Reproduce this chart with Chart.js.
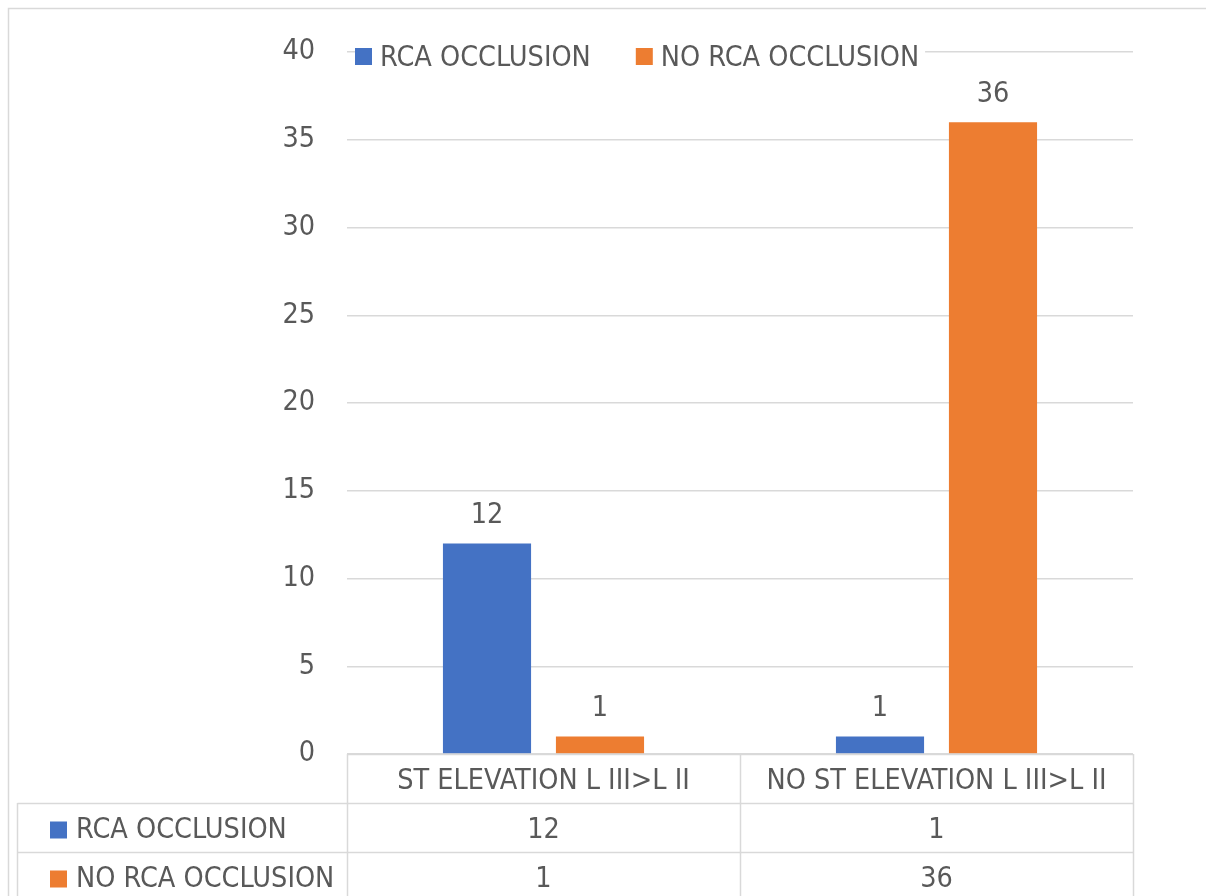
<!DOCTYPE html>
<html>
<head>
<meta charset="utf-8">
<script src="https://cdn.jsdelivr.net/npm/chart.js@4/dist/chart.umd.min.js"></script>
<style>
  html, body { margin: 0; padding: 0; background: #ffffff; }
  #wrap { position: relative; width: 1206px; height: 896px; }
</style>
</head>
<body>
<div id="wrap"><canvas id="c" width="1206" height="896"></canvas></div>
<script>
// Chart data
const categories = ['ST ELEVATION L III>L II', 'NO ST ELEVATION L III>L II'];
const seriesNames = ['RCA OCCLUSION', 'NO RCA OCCLUSION'];
const rcaOcclusion = [12, 1];
const noRcaOcclusion = [1, 36];
const yTicks = [0, 5, 10, 15, 20, 25, 30, 35, 40];

const FONT = "'Liberation Sans Narrow', 'DejaVu Sans Condensed', 'Noto Sans', sans-serif";
const FONT_SIZE = 28.5;
const TEXT = '#595959';
const LINE = '#D9D9D9';
const COLORS = ['#4472C4', '#ED7D31'];

// Draws the frame, legend, value labels and the data table under the plot
const decorations = {
  id: 'decorations',
  afterDraw(chart) {
    const ctx = chart.ctx;
    const area = chart.chartArea;
    const x = chart.scales.x;
    const W = chart.width, H = chart.height;
    ctx.save();
    ctx.font = FONT_SIZE + 'px ' + FONT;
    ctx.fillStyle = TEXT;

    // outer chart frame
    ctx.strokeStyle = LINE;
    ctx.lineWidth = 1.5;
    ctx.beginPath();
    ctx.moveTo(8.5, H);
    ctx.lineTo(8.5, 8.5);
    ctx.lineTo(W, 8.5);
    ctx.stroke();

    // value labels above bars
    ctx.textAlign = 'center';
    ctx.textBaseline = 'middle';
    chart.data.datasets.forEach((ds, di) => {
      chart.getDatasetMeta(di).data.forEach((bar, i) => {
        ctx.fillText(String(ds.data[i]), bar.x, bar.y - 28);
      });
    });

    // legend inside the plot top
    const legY = area.top + 5;
    let lx = area.left + 8;
    const legendGap = 45;
    ctx.textAlign = 'left';
    const legendStart = lx;
    const widths = seriesNames.map(n => ctx.measureText(n).width);
    const legendEnd = lx + 25 * 2 + widths[0] + widths[1] + legendGap + 6;
    ctx.fillStyle = '#ffffff';
    ctx.fillRect(legendStart, area.top - 2, legendEnd - legendStart, 4);
    seriesNames.forEach((name, i) => {
      ctx.fillStyle = COLORS[i];
      ctx.fillRect(lx, legY - 9, 17, 17);
      ctx.fillStyle = TEXT;
      ctx.fillText(name, lx + 25, legY + 2);
      lx += 25 + widths[i] + legendGap;
    });

    // data table
    const rowH = 49;
    const headTop = area.bottom;
    const row1 = headTop + rowH;
    const row2 = row1 + rowH;
    const tableLeft = 17.5;
    const colEdges = [area.left, (x.getPixelForValue(0) + x.getPixelForValue(1)) / 2, area.right];
    ctx.strokeStyle = LINE;
    ctx.lineWidth = 1.5;
    ctx.beginPath();
    // horizontal rules
    ctx.moveTo(area.left, headTop + 0.5); ctx.lineTo(area.right, headTop + 0.5);
    ctx.moveTo(tableLeft, row1 + 0.5); ctx.lineTo(area.right, row1 + 0.5);
    ctx.moveTo(tableLeft, row2 + 0.5); ctx.lineTo(area.right, row2 + 0.5);
    // vertical rules
    colEdges.forEach(cx => {
      ctx.moveTo(Math.round(cx) + 0.5, headTop);
      ctx.lineTo(Math.round(cx) + 0.5, H);
    });
    ctx.moveTo(tableLeft, row1);
    ctx.lineTo(tableLeft, H);
    ctx.stroke();

    // header row: category names
    ctx.fillStyle = TEXT;
    ctx.textAlign = 'center';
    categories.forEach((cat, i) => {
      ctx.fillText(cat, x.getPixelForValue(i), headTop + rowH / 2 + 3);
    });

    // series rows
    const rows = [rcaOcclusion, noRcaOcclusion];
    rows.forEach((vals, r) => {
      const cy = row1 + rowH * r + rowH / 2 + 2;
      ctx.fillStyle = COLORS[r];
      ctx.fillRect(50, cy - 8, 17, 17);
      ctx.fillStyle = TEXT;
      ctx.textAlign = 'left';
      ctx.fillText(seriesNames[r], 76, cy + 1);
      ctx.textAlign = 'center';
      vals.forEach((v, i) => ctx.fillText(String(v), x.getPixelForValue(i), cy + 1));
    });
    ctx.restore();
  }
};

new Chart(document.getElementById('c'), {
  type: 'bar',
  data: {
    labels: categories,
    datasets: [
      { label: seriesNames[0], data: rcaOcclusion, backgroundColor: COLORS[0] },
      { label: seriesNames[1], data: noRcaOcclusion, backgroundColor: COLORS[1] }
    ]
  },
  options: {
    responsive: false,
    animation: false,
    events: [],
    layout: { padding: { left: 0, top: 52, right: 73, bottom: 142 } },
    datasets: { bar: { categoryPercentage: 0.575, barPercentage: 0.78 } },
    scales: {
      x: { display: false },
      y: {
        min: 0, max: 40,
        afterFit(scale) { scale.width = 347; },
        afterBuildTicks(scale) { scale.ticks = yTicks.map(v => ({ value: v })); },
        border: { display: false },
        grid: { color: LINE, lineWidth: 1.5, drawTicks: false },
        ticks: { padding: 32, color: TEXT, font: { family: FONT, size: FONT_SIZE } }
      }
    },
    plugins: { legend: { display: false }, tooltip: { enabled: false } }
  },
  plugins: [decorations]
});
</script>
</body>
</html>
